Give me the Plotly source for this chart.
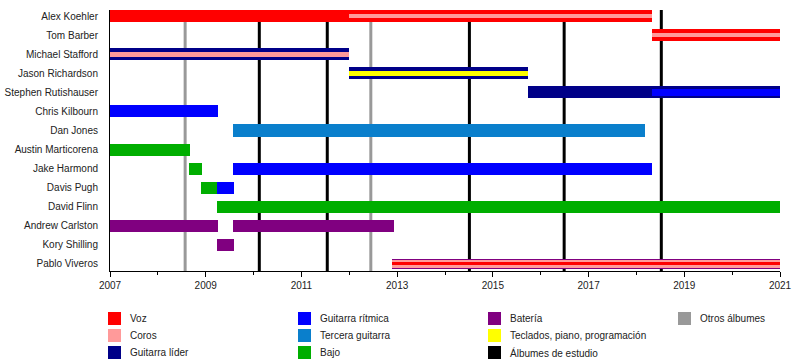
import plotly.graph_objects as go

# ---------------- data ----------------
members = ["Alex Koehler", "Tom Barber", "Michael Stafford", "Jason Richardson",
           "Stephen Rutishauser", "Chris Kilbourn", "Dan Jones", "Austin Marticorena",
           "Jake Harmond", "Davis Pugh", "David Flinn", "Andrew Carlston",
           "Kory Shilling", "Pablo Viveros"]

# outer (full-thickness) spans
outer_member = ["Alex Koehler", "Tom Barber", "Michael Stafford", "Jason Richardson",
                "Stephen Rutishauser", "Chris Kilbourn", "Dan Jones", "Austin Marticorena",
                "Jake Harmond", "Jake Harmond", "Davis Pugh", "Davis Pugh", "David Flinn",
                "Andrew Carlston", "Andrew Carlston", "Kory Shilling", "Pablo Viveros"]
outer_role = ["Voz", "Voz", "Guitarra líder", "Guitarra líder",
              "Guitarra líder", "Guitarra rítmica", "Tercera guitarra", "Bajo",
              "Bajo", "Guitarra rítmica", "Bajo", "Guitarra rítmica", "Bajo",
              "Batería", "Batería", "Batería", "Batería"]
outer_start = [2007.0, 2018.32, 2007.0, 2012.0,
               2015.73, 2007.0, 2009.58, 2007.0,
               2008.65, 2009.58, 2008.9, 2009.24, 2009.24,
               2007.0, 2009.58, 2009.24, 2012.9]
outer_end = [2018.32, 2021.0, 2012.0, 2015.73,
             2021.0, 2009.25, 2018.18, 2008.67,
             2008.92, 2018.32, 2009.24, 2009.59, 2021.0,
             2009.25, 2012.93, 2009.59, 2021.0]

# middle spans
mid_member = ["Stephen Rutishauser", "Pablo Viveros"]
mid_role = ["Guitarra rítmica", "Coros"]
mid_start = [2018.32, 2012.9]
mid_end = [2021.0, 2021.0]

# inner (thin) spans
inner_member = ["Alex Koehler", "Tom Barber", "Michael Stafford", "Jason Richardson",
                "Pablo Viveros"]
inner_role = ["Coros", "Coros", "Coros", "Teclados, piano, programación", "Voz"]
inner_start = [2012.0, 2018.32, 2007.0, 2012.0, 2012.9]
inner_end = [2018.32, 2021.0, 2012.0, 2015.73, 2021.0]

# albums
studio_albums = [2010.12, 2011.54, 2014.51, 2016.49, 2018.52]
other_albums = [2008.57, 2012.45]

# legend
legend_labels = ["Voz", "Coros", "Guitarra líder",
                 "Guitarra rítmica", "Tercera guitarra", "Bajo",
                 "Batería", "Teclados, piano, programación", "Álbumes de estudio",
                 "Otros álbumes"]

x_ticks = [2007, 2009, 2011, 2013, 2015, 2017, 2019, 2021]

# ---------------- style ----------------
colors = {
    "Voz": "#ff0000",
    "Coros": "#ff9a9a",
    "Guitarra líder": "#000088",
    "Guitarra rítmica": "#0000ff",
    "Tercera guitarra": "#0a7fcc",
    "Bajo": "#00ae00",
    "Batería": "#800080",
    "Teclados, piano, programación": "#ffff00",
    "Álbumes de estudio": "#000000",
    "Otros álbumes": "#999999",
}
FONT = "Liberation Sans, Arial, sans-serif"
FS = 10

fig = go.Figure()


def add_layer(mem, role, start, end, width_fn):
    roles = list(dict.fromkeys(role))
    for r in roles:
        idx = [i for i, rr in enumerate(role) if rr == r]
        fig.add_trace(go.Bar(
            y=[mem[i] for i in idx],
            x=[end[i] - start[i] for i in idx],
            base=[start[i] for i in idx],
            width=[width_fn(mem[i], r) for i in idx],
            orientation="h",
            marker=dict(color=colors[r], line=dict(width=0)),
            showlegend=False,
            name=r,
            hoverinfo="skip",
        ))


add_layer(outer_member, outer_role, outer_start, outer_end,
          lambda m, r: 0.53 if m == "Pablo Viveros" else 0.63)
add_layer(mid_member, mid_role, mid_start, mid_end,
          lambda m, r: 0.40)
add_layer(inner_member, inner_role, inner_start, inner_end,
          lambda m, r: 0.16 if m == "Pablo Viveros" else 0.24)

# album lines
for xa in other_albums:
    fig.add_shape(type="line", x0=xa, x1=xa, y0=0, y1=1, xref="x", yref="paper",
                  line=dict(color=colors["Otros álbumes"], width=3), layer="below")
for xa in studio_albums:
    fig.add_shape(type="line", x0=xa, x1=xa, y0=0, y1=1, xref="x", yref="paper",
                  line=dict(color=colors["Álbumes de estudio"], width=3), layer="below")

# ---------------- layout ----------------
W, H = 800, 360
PLOT_L, PLOT_R, PLOT_T, PLOT_B = 110, 780, 10, 271   # page pixels
ML, MT = PLOT_L, PLOT_T
MR, MB = W - PLOT_R, H - PLOT_B
PW, PH = PLOT_R - PLOT_L, PLOT_B - PLOT_T


def px_x(px):
    return (px - PLOT_L) / PW


def px_y(py):
    return (PLOT_B - py) / PH


# manual legend (4 columns)
col_swatch_x = [108, 298, 488, 678]
row_center_y = [318.5, 335.5, 352.5]
legend_pos = [(0, 0), (0, 1), (0, 2), (1, 0), (1, 1), (1, 2), (2, 0), (2, 1), (2, 2), (3, 0)]
for lab, (c, r) in zip(legend_labels, legend_pos):
    sx = col_swatch_x[c]
    cy = row_center_y[r]
    fig.add_shape(type="rect", xref="paper", yref="paper",
                  x0=px_x(sx), x1=px_x(sx + 13), y0=px_y(cy + 6.5), y1=px_y(cy - 6.5),
                  fillcolor=colors[lab], line=dict(width=0))
    fig.add_annotation(xref="paper", yref="paper", x=px_x(sx + 20), y=px_y(cy),
                       text=lab, showarrow=False, xanchor="left", yanchor="middle",
                       font=dict(family=FONT, size=FS, color="#222222"))

fig.update_layout(
    width=W, height=H,
    margin=dict(l=ML, r=MR, t=MT, b=MB, pad=0, autoexpand=False),
    paper_bgcolor="white", plot_bgcolor="white",
    barmode="overlay",
    bargap=0,
    font=dict(family=FONT, size=FS, color="#222222"),
    showlegend=False,
    hovermode=False,
    xaxis=dict(
        range=[2007, 2021], automargin=False, fixedrange=True,
        tickmode="array", tickvals=x_ticks, ticktext=[str(t) for t in x_ticks],
        ticks="outside", ticklen=5, tickwidth=1, tickcolor="black",
        showline=True, linecolor="black", linewidth=1,
        showgrid=False, zeroline=False,
        minor=dict(tickmode="linear", tick0=2007, dtick=1, ticks="outside",
                   ticklen=3, tickcolor="black", showgrid=False),
        tickfont=dict(family=FONT, size=FS, color="#222222"),
    ),
    yaxis=dict(
        categoryorder="array", categoryarray=members, automargin=False,
        range=[13.37, -0.32], fixedrange=True,
        showline=True, linecolor="black", linewidth=1,
        showgrid=False, zeroline=False, ticks="",
        ticklabelstandoff=9,
        tickfont=dict(family=FONT, size=FS, color="#222222"),
    ),
)

fig.write_html("out.html",
               config={"displayModeBar": False},
               post_script="document.body.style.margin='0px';"
                           "document.body.style.overflow='hidden';")
